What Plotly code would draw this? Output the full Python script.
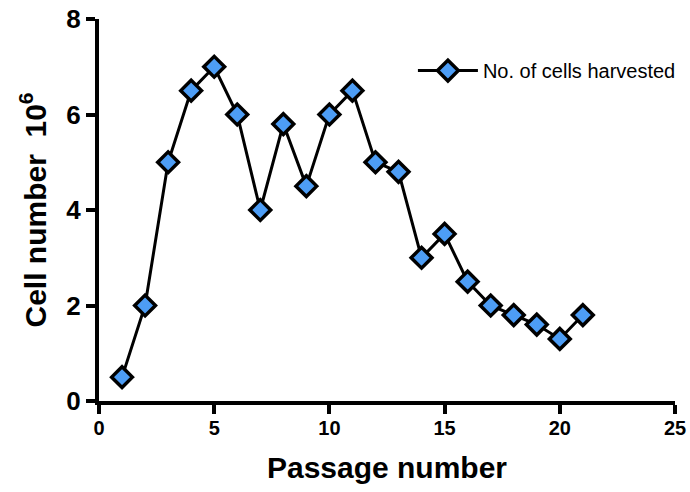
import plotly.graph_objects as go

# Cells harvested at each passage (x 10^6)
passage = [1, 2, 3, 4, 5, 6, 7, 8, 9, 10, 11, 12, 13, 14, 15, 16, 17, 18, 19, 20, 21]
cells = [0.5, 2.0, 5.0, 6.5, 7.0, 6.0, 4.0, 5.8, 4.5, 6.0, 6.5, 5.0, 4.8, 3.0, 3.5, 2.5, 2.0, 1.8, 1.6, 1.3, 1.8]

x_ticks = [0, 5, 10, 15, 20, 25]
y_ticks = [0, 2, 4, 6, 8]

FONT = "Liberation Sans, Arial, sans-serif"

fig = go.Figure()
fig.add_trace(go.Scatter(
    x=passage, y=cells, mode="lines+markers",
    name="No. of cells harvested",
    line=dict(color="black", width=3),
    marker=dict(symbol="diamond", size=16, color="#4d9df5",
                line=dict(color="black", width=3.5)),
    cliponaxis=False,
))

fig.update_layout(
    width=690, height=492,
    margin=dict(l=99, r=15, t=19, b=91, autoexpand=False),
    paper_bgcolor="white", plot_bgcolor="white",
    font=dict(family=FONT, color="black"),
    showlegend=True,
    legend=dict(x=0.545, y=0.865, xanchor="left", yanchor="middle",
                font=dict(size=20, family=FONT), bgcolor="rgba(0,0,0,0)",
                itemwidth=60),
    xaxis=dict(
        range=[0, 25], tickvals=x_ticks, ticktext=[str(v) for v in x_ticks],
        showline=True, linewidth=4, linecolor="black",
        ticks="outside", ticklen=9, tickwidth=4, tickcolor="black",
        showgrid=False, zeroline=False, automargin=False,
        ticklabelstandoff=-3,
        tickfont=dict(size=20, family=FONT, weight="bold"),
        title=dict(text="<b>Passage number</b>", font=dict(size=30, family=FONT), standoff=20),
    ),
    yaxis=dict(
        range=[0, 8], tickvals=y_ticks, ticktext=[str(v) for v in y_ticks],
        showline=True, linewidth=4, linecolor="black",
        ticks="outside", ticklen=9, tickwidth=4, tickcolor="black",
        showgrid=False, zeroline=False, automargin=False,
        tickfont=dict(size=26, family=FONT, weight="bold"),
        title=dict(text="<b>Cell number  10<sup>6</sup></b>", font=dict(size=30, family=FONT), standoff=12),
    ),
)

fig.write_html("out.html")
